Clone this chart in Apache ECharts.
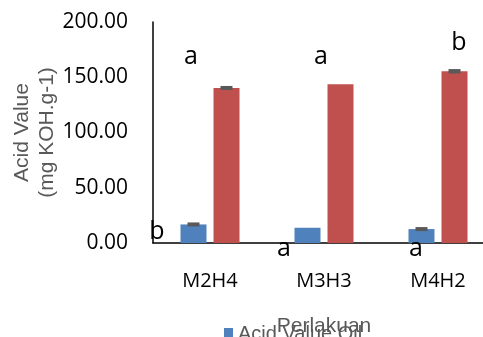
<!DOCTYPE html>
<html><head><meta charset="utf-8">
<script src="https://cdn.jsdelivr.net/npm/echarts@6/dist/echarts.min.js"></script>
<style>html,body{margin:0;padding:0;background:#fff}#c{width:483px;height:337px}</style>
</head><body><div id="c"></div>
<script>
var categories = ['M2H4', 'M3H3', 'M4H2'];
var blueValues = [16.8, 13.8, 12.6];
var blueErrors = [1.5, 0, 1.0];
var redValues = [140.3, 143.6, 155.4];
var redErrors = [1.5, 0, 2.0];
var topLetters = ['a', 'a', 'b'];
var topLetterY = [168, 168, 181];
var bottomLetters = ['b', 'a', 'a'];
var bottomLetterY = [10, -5.4, -5.4];
var yTicks = [0, 50, 100, 150, 200];

var topDx = [-19, -3, 21];
var bottomDx = [-53, -40, -22];

var font = 'Open Sans';
var font2 = 'Liberation Sans';
var chart = echarts.init(document.getElementById('c'));

function errSeries(vals, errs, shift) {
  return {
    type: 'custom', silent: true, z: 5,
    data: vals.map(function (v, i) { return [i, v, errs[i]]; }),
    renderItem: function (params, api) {
      var i = api.value(0), v = api.value(1), e = api.value(2);
      if (!e) return null;
      var top = api.coord([i, v + e]), bot = api.coord([i, v - e]);
      var x = top[0] + shift;
      var h = Math.max(bot[1] - top[1], 4);
      var cy = (top[1] + bot[1]) / 2;
      return { type: 'rect', shape: { x: x - 6, y: cy - h / 2, width: 12, height: h }, style: { fill: '#595959' } };
    }
  };
}
function letterSeries(letters, ys, dxs) {
  return {
    type: 'custom', silent: true, z: 6,
    data: letters.map(function (l, i) { return [i, ys[i]]; }),
    renderItem: function (params, api) {
      var i = params.dataIndex;
      var p = api.coord([api.value(0), api.value(1)]);
      return { type: 'text', style: { text: letters[i], x: p[0] + dxs[i], y: p[1], align: 'center', verticalAlign: 'middle', font: '25px "' + font + '"', fill: '#000' } };
    }
  };
}

chart.setOption({
  animation: false,
  textStyle: { fontFamily: font },
  grid: { left: 153, top: 22, width: 342, height: 221, containLabel: false, outerBoundsMode: 'none' },
  legend: {
    data: ['Acid Value Oil'], left: 219, top: 319, itemWidth: 9, itemHeight: 12, icon: 'rect',
    textStyle: { fontSize: 20, color: '#595959', fontFamily: font2 }, itemGap: 5
  },
  xAxis: {
    type: 'category', data: categories,
    name: 'Perlakuan', nameLocation: 'middle', nameGap: 73, nameMoveOverlap: false,
    nameTextStyle: { fontSize: 21, color: '#595959', fontFamily: font2 },
    axisLine: { lineStyle: { color: '#000', width: 1.5 } },
    axisTick: { show: false },
    axisLabel: { fontSize: 20, color: '#000', margin: 28 }
  },
  yAxis: {
    type: 'value', min: 0, max: 200, interval: 50,
    name: 'Acid Value\n(mg KOH.g-1)', nameLocation: 'middle', nameGap: 93, nameMoveOverlap: false,
    nameTextStyle: { fontSize: 21, color: '#595959', lineHeight: 25, fontFamily: font2 },
    axisLine: { show: true, lineStyle: { color: '#000', width: 1.5 } },
    axisTick: { show: false },
    splitLine: { show: false },
    axisLabel: { fontSize: 21, color: '#000', margin: 25, formatter: function (v) { return v.toFixed(2); } }
  },
  series: [
    { name: 'Acid Value Oil', type: 'bar', data: blueValues, barWidth: 26, barGap: '27%', itemStyle: { color: '#4F81BD' } },
    { name: 'Red', type: 'bar', data: redValues, barWidth: 26, barGap: '27%', itemStyle: { color: '#C0504D' } },
    errSeries(blueValues, blueErrors, -16.5),
    errSeries(redValues, redErrors, 16.5),
    letterSeries(topLetters, topLetterY, topDx),
    letterSeries(bottomLetters, bottomLetterY, bottomDx)
  ]
});
</script></body></html>
